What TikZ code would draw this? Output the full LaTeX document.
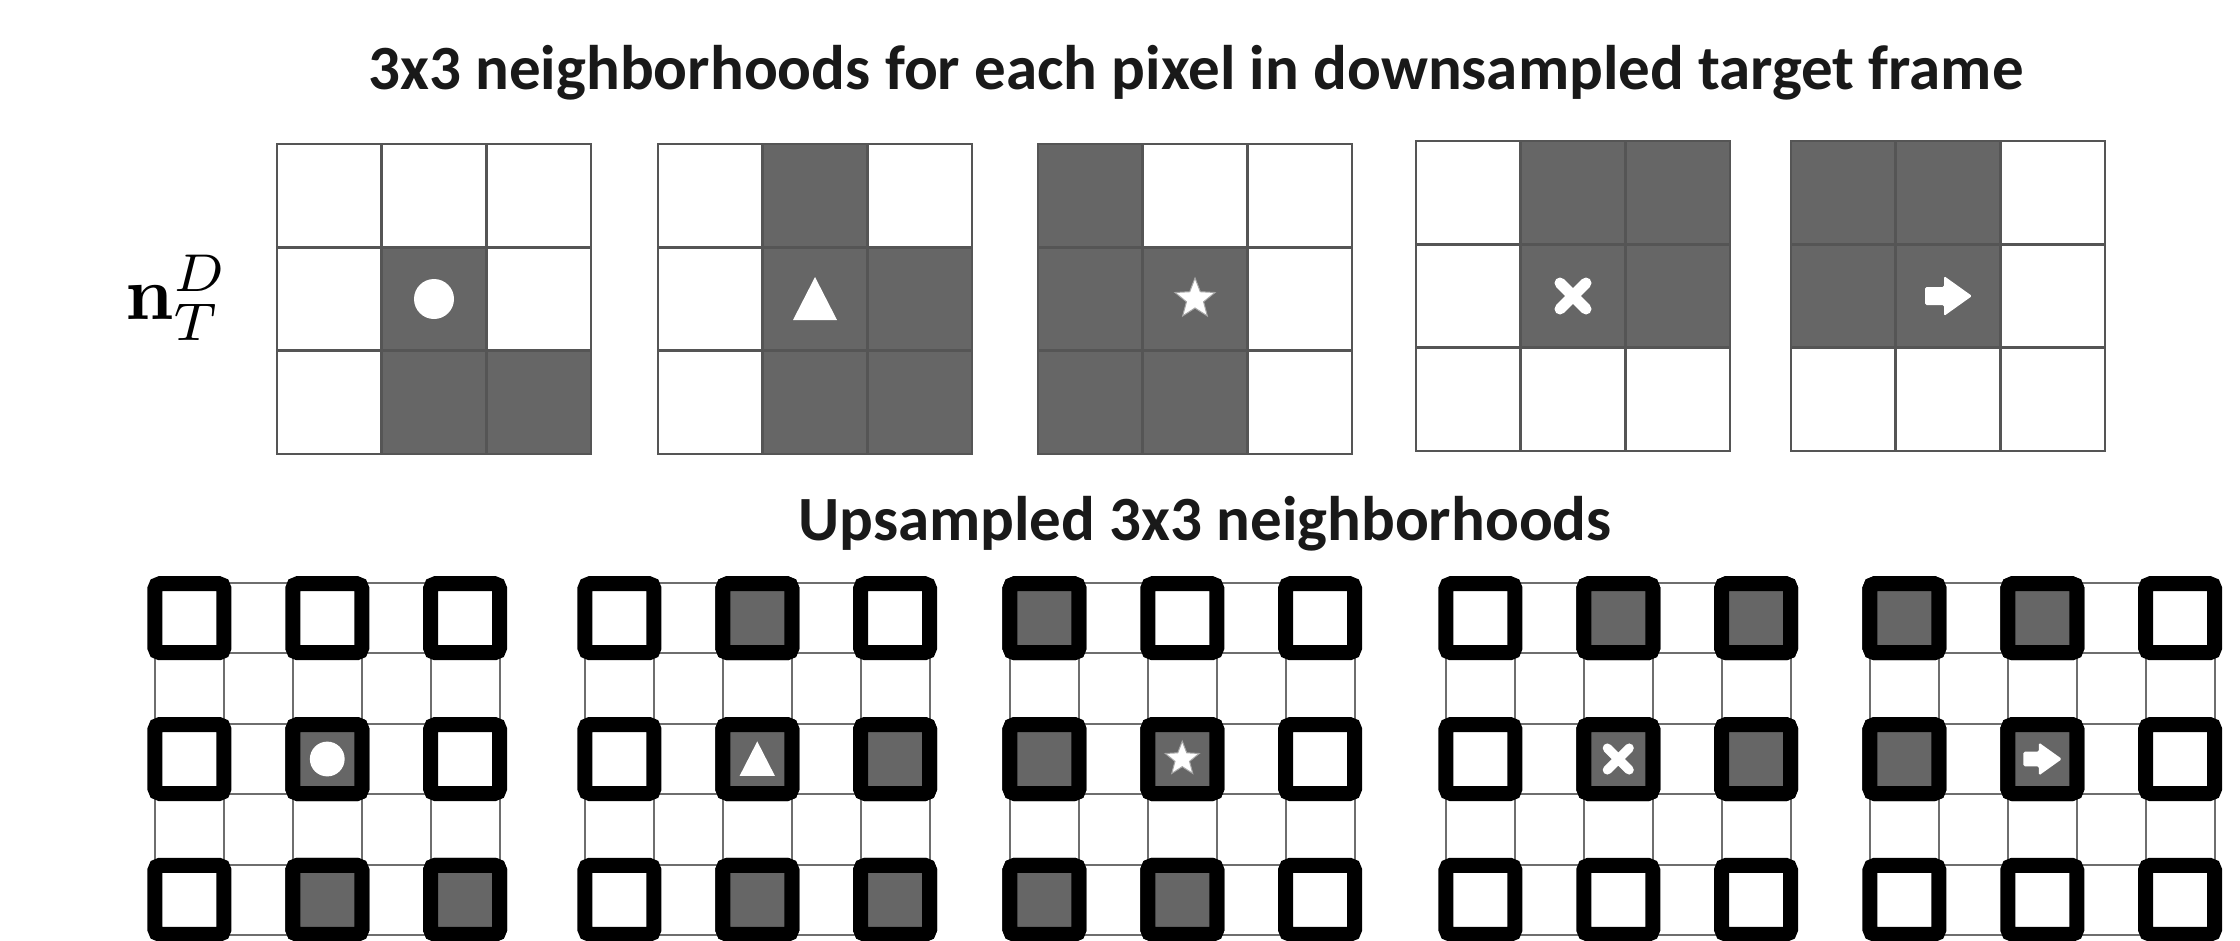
\documentclass[tikz,border=0pt]{standalone}
\usepackage[no-math]{fontspec}
\newfontfamily\calib{Carlito}
\usetikzlibrary{calc}
\definecolor{cellgray}{RGB}{102,102,102}
\definecolor{linegray}{RGB}{85,85,85}
\definecolor{thingray}{RGB}{110,110,110}

\newcommand{\SymCircle}[1]{\begin{scope}[scale=#1]\fill[white] (0,0) circle (20);\end{scope}}
\newcommand{\SymTri}[1]{\begin{scope}[scale=#1]\fill[white] (-22,21) -- (22,21) -- (0,-22) -- cycle;\end{scope}}
\newcommand{\SymStar}[1]{\begin{scope}[scale=#1]\filldraw[fill=white, draw=gray!70, line width=1]
 (-90:21) -- (-54:9) -- (-18:21) -- (18:9) -- (54:21) -- (90:9) -- (126:21) -- (162:9) -- (198:21) -- (234:9) -- cycle;\end{scope}}
\newcommand{\SymX}[1]{\begin{scope}[scale=#1]\draw[white, line width=#1*11, line cap=round] (-13,-13) -- (13,13) (-13,13) -- (13,-13);\end{scope}}
\newcommand{\SymArrow}[1]{\begin{scope}[scale=#1]\fill[white, rounded corners=1.5] (-23,-9) -- (-4,-9) -- (-4,-20) -- (24,0) -- (-4,20) -- (-4,9) -- (-23,9) -- cycle;\end{scope}}

% top 3x3 grid: x0, y0, dark cells (col/row), symbol
\newcommand{\TopGrid}[4]{%
 \begin{scope}[shift={(#1,#2)}]
   \foreach \c/\r in {#3} { \fill[cellgray] (\c*104.7,\r*103.3) rectangle ++(104.7,103.3); }
   \foreach \i in {1,2} {
     \draw[topline] (\i*104.7,0) -- (\i*104.7,310);
     \draw[topline] (0,\i*103.3) -- (314,\i*103.3);
   }
   \draw[topline] (0,0) rectangle (314,310);
   \begin{scope}[shift={(157,155)}] #4 \end{scope}
 \end{scope}}

% upsampled grid: x0, dark cells (col/row), symbol
\newcommand{\BotGrid}[3]{%
 \begin{scope}[shift={(#1,583)}]
   \foreach \i in {0,...,5} {
     \draw[thinline] (\i*68.9,0) -- (\i*68.9,352);
     \draw[thinline] (0,\i*70.4) -- (344.5,\i*70.4);
   }
   \foreach \c in {0,1,2} { \foreach \r in {0,1,2} {
     \draw[thicksq, fill=white] (\c*137.8+34.45-34.5,\r*140.8+35.2-34.5) rectangle ++(69,69);
   }}
   \foreach \c/\r in {#2} {
     \draw[thicksq, fill=cellgray] (\c*137.8+34.45-34.5,\r*140.8+35.2-34.5) rectangle ++(69,69);
   }
   \begin{scope}[shift={(172.25,176)}] #3 \end{scope}
 \end{scope}}

\begin{document}
\begin{tikzpicture}[x=1pt,y=-1pt,
  ttl/.style={font=\calib\bfseries\fontsize{63}{75}\selectfont, anchor=base, inner sep=0, text=black!90},
  topline/.style={draw=linegray, line width=2.5},
  thinline/.style={draw=thingray, line width=2},
  thicksq/.style={draw=black, line width=15, rounded corners=5},
]
\clip (0,0) rectangle (2240,940);
\fill[white] (0,0) rectangle (2240,940);

\node[ttl] (title) at (1196,89) {3x3 neighborhoods for each pixel in downsampled target frame};
\node[ttl] (subtitle) at (1205,540) {Upsampled 3x3 neighborhoods};
\node[scale=7.6, inner sep=0] (nlabel) at (177,298) {$\mathbf{n}_T^D$};

\TopGrid{277}{144}{1/1,1/2,2/2}{\SymCircle{1}}
\TopGrid{658}{144}{1/0,1/1,2/1,1/2,2/2}{\SymTri{1}}
\TopGrid{1038}{144}{0/0,0/1,1/1,0/2,1/2}{\SymStar{1}}
\TopGrid{1416}{141}{1/0,2/0,1/1,2/1}{\SymX{1}}
\TopGrid{1791}{141}{0/0,1/0,0/1,1/1}{\SymArrow{1}}

\BotGrid{155}{1/1,1/2,2/2}{\SymCircle{0.87}}
\BotGrid{585}{1/0,1/1,2/1,1/2,2/2}{\SymTri{0.8}}
\BotGrid{1010}{0/0,0/1,1/1,0/2,1/2}{\SymStar{0.85}}
\BotGrid{1446}{1/0,2/0,1/1,2/1}{\SymX{0.84}}
\BotGrid{1870}{0/0,1/0,0/1,1/1}{\SymArrow{0.82}}
\end{tikzpicture}
\end{document}
